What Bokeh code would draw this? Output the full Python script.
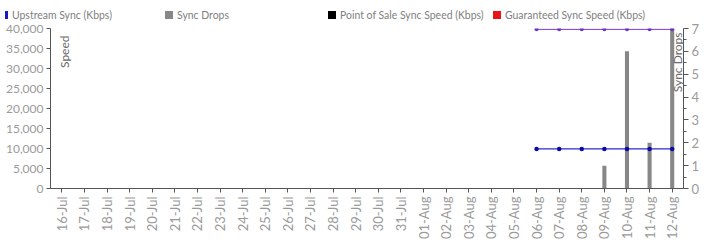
import math
from bokeh.plotting import figure
from bokeh.layouts import column
from bokeh.models import (ColumnDataSource, Range1d, LinearAxis, FixedTicker, NumeralTickFormatter,
                          Label, Div)
from bokeh.embed import file_html
from bokeh.resources import INLINE

# ---- data ----
dates = ['16-Jul', '17-Jul', '18-Jul', '19-Jul', '20-Jul', '21-Jul', '22-Jul', '23-Jul',
         '24-Jul', '25-Jul', '26-Jul', '27-Jul', '28-Jul', '29-Jul', '30-Jul', '31-Jul',
         '01-Aug', '02-Aug', '03-Aug', '04-Aug', '05-Aug', '06-Aug', '07-Aug', '08-Aug',
         '09-Aug', '10-Aug', '11-Aug', '12-Aug']
line_dates = ['06-Aug', '07-Aug', '08-Aug', '09-Aug', '10-Aug', '11-Aug', '12-Aug']
upstream_sync = [9900, 9900, 9900, 9900, 9900, 9900, 9900]
top_speed = [39800, 39800, 39800, 39800, 39800, 39800, 39800]
drop_dates = ['09-Aug', '10-Aug', '11-Aug', '12-Aug']
sync_drops = [1, 6, 2, 7]
speed_ticks = [0, 5000, 10000, 15000, 20000, 25000, 30000, 35000, 40000]
drop_ticks = [0, 1, 2, 3, 4, 5, 6, 7]
drop_minor = [0.5, 1.5, 2.5, 3.5, 4.5, 5.5, 6.5]
legend_labels = ["Upstream Sync (Kbps)", "Sync Drops",
                 "Point of Sale Sync Speed (Kbps)", "Guaranteed Sync Speed (Kbps)"]
legend_colors = ["#1a1ac0", "#878787", "#000000", "#e8141a"]

FONT = "Lato"
TICK_COLOR = "#9a9a9a"
AXIS_COLOR = "#555555"
BAR_COLOR = legend_colors[1]

LEG_H = 22
p = figure(width=708, height=242 - LEG_H, x_range=dates, y_range=Range1d(0, 40000),
           output_backend="svg", toolbar_location=None,
           min_border_left=50, min_border_right=25, min_border_top=28 - LEG_H, min_border_bottom=54)
p.extra_y_ranges = {"drops": Range1d(0, 7)}
p.outline_line_color = None
p.xgrid.grid_line_color = None
p.ygrid.grid_line_color = None

# bars
bar_src = ColumnDataSource(dict(x=drop_dates, top=sync_drops))
p.vbar(x='x', top='top', width=0.18, source=bar_src, y_range_name="drops",
       fill_color=BAR_COLOR, line_color=None)

# lines
top_src = ColumnDataSource(dict(x=line_dates, y=top_speed))
p.line('x', 'y', source=top_src, line_color="#8a4fe0", line_width=1.3)
p.scatter('x', 'y', source=top_src, size=4, fill_color="#6a34c8", line_color=None)

up_src = ColumnDataSource(dict(x=line_dates, y=upstream_sync))
p.line('x', 'y', source=up_src, line_color="#2a2ad0", line_width=1.3)
p.scatter('x', 'y', source=up_src, size=4.5, fill_color="#0a0aa8", line_color=None)

# axes
for ax in [p.xaxis[0], p.yaxis[0]]:
    ax.axis_line_color = AXIS_COLOR
    ax.major_tick_line_color = AXIS_COLOR
    ax.minor_tick_line_color = None
    ax.major_label_text_color = TICK_COLOR
    ax.major_label_text_font = FONT
    ax.major_label_text_font_size = "12px"
    ax.major_tick_in = 0
    ax.major_tick_out = 4

p.yaxis[0].ticker = FixedTicker(ticks=speed_ticks)
p.yaxis[0].formatter = NumeralTickFormatter(format="0,0")
p.yaxis[0].major_label_standoff = 3
p.xaxis[0].major_label_orientation = math.pi / 2
p.xaxis[0].major_label_standoff = 4
p.xaxis[0].major_label_text_font_size = "13px"

right = LinearAxis(y_range_name="drops", ticker=FixedTicker(ticks=drop_ticks, minor_ticks=drop_minor))
right.axis_line_color = AXIS_COLOR
right.major_tick_line_color = AXIS_COLOR
right.minor_tick_line_color = AXIS_COLOR
right.major_tick_in = 0
right.major_tick_out = 5
right.minor_tick_in = 0
right.minor_tick_out = 3
right.major_label_text_color = TICK_COLOR
right.major_label_text_font = FONT
right.major_label_text_font_size = "13px"
right.major_label_standoff = 3
p.add_layout(right, "right")

# axis titles inside plot
p.add_layout(Label(x=0, y=40000, text="Speed", angle=math.pi / 2, x_offset=6, y_offset=-7,
                   text_align="right", text_baseline="top", text_font=FONT,
                   text_font_size="12px", text_color="#6a6a6a"))
p.add_layout(Label(x=28, y=7, y_range_name="drops", text="Sync Drops", angle=math.pi / 2,
                   x_offset=-14, y_offset=-4, text_align="right", text_baseline="top",
                   text_font=FONT, text_font_size="12px", text_color="#6a6a6a"))

# ---- legend strip (HTML text on top) ----
item_left = [5, 165, 328, 493]
swatch_w = [3, 8, 8, 8]
parts = []
for lbl, col, lx, sw in zip(legend_labels, legend_colors, item_left, swatch_w):
    parts.append(
        f'<span style="position:absolute;left:{lx}px;top:11px;width:{sw}px;height:8px;'
        f'background:{col};"></span>'
        f'<span style="position:absolute;left:{lx + sw + 4}px;top:8px;font-family:{FONT};'
        f'font-size:12px;line-height:14px;color:#808080;white-space:nowrap;'
        f'transform:scaleX(0.87);transform-origin:0 50%;">{lbl}</span>'
    )
html = ('<div style="position:relative;width:708px;height:%dpx;background:white;">' % LEG_H
        + "".join(parts) + "</div>")
legend_div = Div(text=html, width=708, height=LEG_H, margin=0)

layout = column(legend_div, p, spacing=0)
open("out.html", "w").write(file_html(layout, INLINE))
